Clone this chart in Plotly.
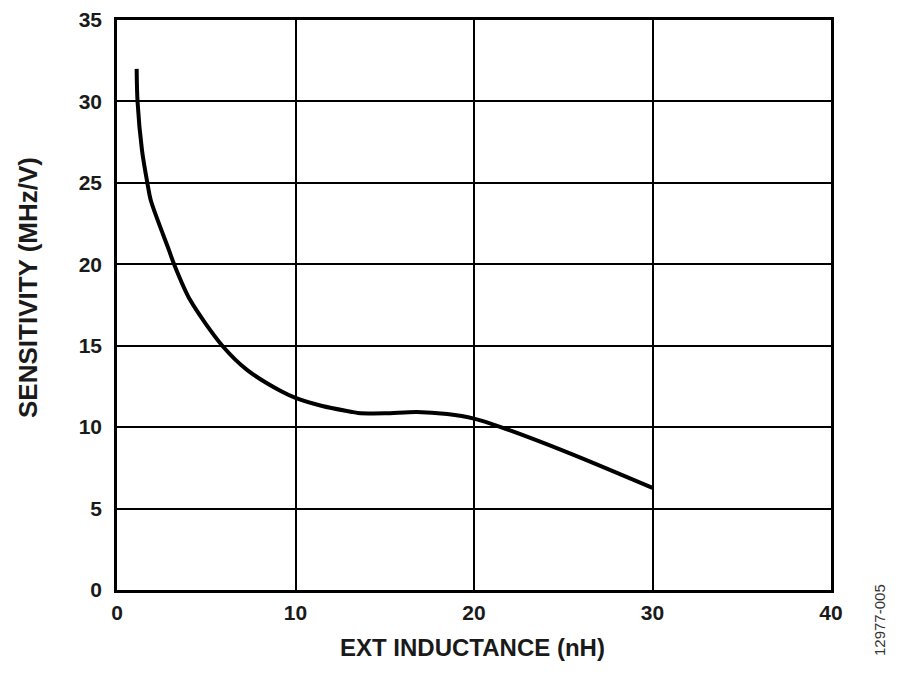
import plotly.graph_objects as go

inductance_nH = [1.1, 1.15, 1.4, 1.7, 1.9, 2.9, 3.2, 4.1, 5.9, 7.3, 9.2, 10.0, 11.5, 13.1, 13.5, 15.0, 16.8, 18.5, 20.0, 21.5, 25.3, 30.0]
sensitivity = [32.0, 30.0, 27.0, 25.0, 23.9, 20.9, 20.0, 17.8, 15.0, 13.5, 12.2, 11.8, 11.3, 10.95, 10.87, 10.85, 10.93, 10.8, 10.52, 10.0, 8.42, 6.27]

x_ticks = [0, 10, 20, 30, 40]
y_ticks = [0, 5, 10, 15, 20, 25, 30, 35]

font_family = "Liberation Sans, Arial, sans-serif"
OFF = 8  # page body margin offset
W, H = 900, 674
L, R, T = 117 - OFF, 69 + OFF, 20 - OFF
B = H - T - 570
pw, ph = W - L - R, H - T - B

def px_x(p):
    return (p - OFF - L) / pw

def px_y(p):
    return (H - B - (p - OFF)) / ph

fig = go.Figure()
fig.add_trace(go.Scatter(
    x=inductance_nH, y=sensitivity, mode="lines",
    line=dict(color="black", width=4, shape="spline", smoothing=0.8),
    showlegend=False, hoverinfo="skip",
))

axis_common = dict(
    showgrid=True, gridcolor="black", gridwidth=2,
    showline=True, linecolor="black", linewidth=2.5, mirror=True,
    zeroline=False, ticks="", ticklen=0, automargin=False,
    tickfont=dict(family=font_family, size=21, color="#1a1a1a"),
)

fig.update_layout(
    width=W, height=H,
    margin=dict(l=L, r=R, t=T, b=B),
    paper_bgcolor="white", plot_bgcolor="white",
    font=dict(family=font_family, color="#1a1a1a"),
    xaxis=dict(range=[0, 40], tickvals=x_ticks, ticktext=[f"<b>{v}</b>" for v in x_ticks],
               ticklabelstandoff=2, **axis_common),
    yaxis=dict(range=[0, 35], tickvals=y_ticks, ticktext=[f"<b>{v}</b>" for v in y_ticks],
               ticklabelstandoff=8, **axis_common),
    annotations=[
        dict(text="<b>EXT INDUCTANCE (nH)</b>", x=px_x(472), y=px_y(647),
             xref="paper", yref="paper", showarrow=False, xanchor="center", yanchor="middle",
             font=dict(family=font_family, size=24, color="#1a1a1a")),
        dict(text="<b>SENSITIVITY (MHz/V)</b>", x=px_x(28), y=px_y(288),
             xref="paper", yref="paper", showarrow=False, xanchor="center", yanchor="middle",
             textangle=-90, font=dict(family=font_family, size=26, color="#1a1a1a")),
        dict(text="12977-005", x=px_x(879), y=px_y(620),
             xref="paper", yref="paper", showarrow=False, xanchor="center", yanchor="middle",
             textangle=-90, font=dict(family=font_family, size=15, color="#333333")),
    ],
)

fig.write_html("out.html")
